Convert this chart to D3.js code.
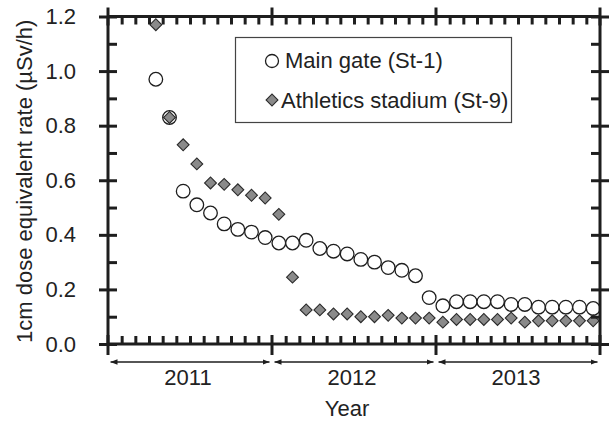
<!DOCTYPE html>
<html>
<head>
<meta charset="utf-8">
<script src="https://cdn.jsdelivr.net/npm/d3@7"></script>
<style>
  body { margin: 0; background: #fff; }
  text { font-family: "Liberation Sans", Arial, Helvetica, sans-serif; fill: #222; }
</style>
</head>
<body>
<svg id="chart" width="611" height="421"></svg>
<script>
// Monthly survey dates
const months = [
  "2011-04", "2011-05", "2011-06", "2011-07", "2011-08", "2011-09", "2011-10", "2011-11", "2011-12",
  "2012-01", "2012-02", "2012-03", "2012-04", "2012-05", "2012-06", "2012-07", "2012-08", "2012-09",
  "2012-10", "2012-11", "2012-12",
  "2013-01", "2013-02", "2013-03", "2013-04", "2013-05", "2013-06", "2013-07", "2013-08", "2013-09",
  "2013-10", "2013-11", "2013-12"
];

// 1cm dose equivalent rate (µSv/h)
const mainGate = [
  0.97, 0.83, 0.56, 0.51, 0.48, 0.44, 0.42, 0.41, 0.39,
  0.37, 0.37, 0.38, 0.35, 0.34, 0.33, 0.31, 0.30, 0.28,
  0.27, 0.25, 0.17,
  0.14, 0.155, 0.155, 0.155, 0.155, 0.145, 0.145, 0.135, 0.135,
  0.135, 0.135, 0.13
];
const athletics = [
  1.17, 0.83, 0.73, 0.66, 0.59, 0.585, 0.565, 0.545, 0.535,
  0.475, 0.245, 0.125, 0.125, 0.11, 0.11, 0.10, 0.10, 0.105,
  0.095, 0.095, 0.095,
  0.08, 0.09, 0.09, 0.09, 0.09, 0.095, 0.08, 0.085, 0.085,
  0.085, 0.085, 0.085
];

const years = ["2011", "2012", "2013"];
const yTicks = [0, 0.2, 0.4, 0.6, 0.8, 1.0, 1.2];
const yMinorTicks = [0.1, 0.3, 0.5, 0.7, 0.9, 1.1];
const seriesNames = ["Main gate (St-1)", "Athletics stadium (St-9)"];
const yTitle = "1cm dose equivalent rate (\u00B5Sv/h)";
const xTitle = "Year";

const plot = { left: 108, right: 600, top: 16.5, bottom: 344 };
const ink = "#1e1e1e";
const axisWidth = 3;
const fontSize = 22;

const svg = d3.select("#chart");
const firstYear = +years[0];
const monthPos = s => {
  const [yy, mm] = s.split("-").map(Number);
  return (yy - firstYear) * 12 + (mm - 1) + 0.5;
};

const x = d3.scaleLinear().domain([0, years.length * 12]).range([plot.left, plot.right]);
const y = d3.scaleLinear().domain([0, 1.2]).range([plot.bottom, plot.top]);

// ---- data marks ----
const gMarks = svg.append("g");
gMarks.selectAll("circle.gate")
  .data(months.map((m, i) => ({ m, v: mainGate[i] })))
  .join("circle")
  .attr("class", "gate")
  .attr("cx", d => x(monthPos(d.m)))
  .attr("cy", d => y(d.v))
  .attr("r", 6.8)
  .attr("fill", "#fff")
  .attr("stroke", ink)
  .attr("stroke-width", 1.3);

const diamond = d3.symbol().type(d3.symbolSquare).size(70);
gMarks.selectAll("path.stadium")
  .data(months.map((m, i) => ({ m, v: athletics[i] })))
  .join("path")
  .attr("class", "stadium")
  .attr("d", diamond)
  .attr("transform", d => `translate(${x(monthPos(d.m))},${y(d.v)}) rotate(45)`)
  .attr("fill", "#8a8a8a")
  .attr("stroke", "#2a2a2a")
  .attr("stroke-width", 1.1);

// ---- axes ----
const monthTicks = d3.range(1, years.length * 12).filter(t => t % 12 !== 0);
const yearBounds = d3.range(0, years.length + 1).map(i => i * 12);

function styleTicks(g) {
  g.select(".domain").remove();
  g.selectAll(".tick line").attr("stroke", ink).attr("stroke-width", axisWidth);
}

// month ticks, pointing into the plot
svg.append("g")
  .attr("transform", `translate(0,${plot.bottom})`)
  .call(d3.axisBottom(x).tickValues(monthTicks).tickSize(-8).tickFormat(""))
  .call(styleTicks);
svg.append("g")
  .attr("transform", `translate(0,${plot.top})`)
  .call(d3.axisTop(x).tickValues(monthTicks).tickSize(-8).tickFormat(""))
  .call(styleTicks);

// minor value ticks, pointing inward
svg.append("g")
  .attr("transform", `translate(${plot.left},0)`)
  .call(d3.axisLeft(y).tickValues(yMinorTicks).tickSize(-9).tickFormat(""))
  .call(styleTicks);
svg.append("g")
  .attr("transform", `translate(${plot.right},0)`)
  .call(d3.axisRight(y).tickValues(yMinorTicks).tickSize(-9).tickFormat(""))
  .call(styleTicks);

// major value ticks cross the axis on both sides
[[plot.left, d3.axisLeft], [plot.right, d3.axisRight]].forEach(([px, ax]) => {
  svg.append("g")
    .attr("transform", `translate(${px},0)`)
    .call(ax(y).tickValues(yTicks).tickSize(9).tickFormat(""))
    .call(styleTicks);
  svg.append("g")
    .attr("transform", `translate(${px},0)`)
    .call(ax(y).tickValues(yTicks).tickSize(-9).tickFormat(""))
    .call(styleTicks);
});

// value labels
const yLab = svg.append("g")
  .attr("transform", `translate(${plot.left},0)`)
  .call(d3.axisLeft(y).tickValues(yTicks).tickSize(0).tickPadding(32).tickFormat(d3.format(".1f")));
yLab.select(".domain").remove();
yLab.selectAll("text").attr("font-size", fontSize).attr("fill", "#222")
  .attr("font-family", "Liberation Sans, Arial, sans-serif");

// frame
const frame = svg.append("g").attr("stroke", ink).attr("stroke-width", axisWidth);
frame.append("line").attr("x1", plot.left).attr("x2", plot.right).attr("y1", plot.top).attr("y2", plot.top);
frame.append("line").attr("x1", plot.left).attr("x2", plot.right).attr("y1", plot.bottom).attr("y2", plot.bottom);

// year boundaries cross both horizontal axes
frame.selectAll("line.yb-bottom").data(yearBounds).join("line")
  .attr("class", "yb-bottom")
  .attr("x1", d => x(d)).attr("x2", d => x(d))
  .attr("y1", plot.bottom - 9).attr("y2", plot.bottom + 11);
frame.selectAll("line.yb-top").data(yearBounds).join("line")
  .attr("class", "yb-top")
  .attr("x1", d => x(d)).attr("x2", d => x(d))
  .attr("y1", plot.top - 9).attr("y2", plot.top + 9);
frame.append("line").attr("x1", x(0)).attr("x2", x(0)).attr("y1", plot.top).attr("y2", plot.bottom);
frame.append("line").attr("x1", x(years.length * 12)).attr("x2", x(years.length * 12)).attr("y1", plot.top).attr("y2", plot.bottom);

// year spans: double-headed arrows with the year below
const defs = svg.append("defs");
defs.append("marker")
  .attr("id", "head")
  .attr("viewBox", "0 0 10 10")
  .attr("refX", 10).attr("refY", 5)
  .attr("markerWidth", 7).attr("markerHeight", 7)
  .attr("markerUnits", "userSpaceOnUse")
  .attr("orient", "auto-start-reverse")
  .append("path").attr("d", "M0,1 L10,5 L0,9 Z").attr("fill", ink);

const arrowY = 362;
const spans = svg.append("g");
spans.selectAll("line").data(years).join("line")
  .attr("x1", (d, i) => x(i * 12) + 2.5)
  .attr("x2", (d, i) => x((i + 1) * 12) - 2.5)
  .attr("y1", arrowY).attr("y2", arrowY)
  .attr("stroke", ink).attr("stroke-width", 1.4)
  .attr("marker-start", "url(#head)")
  .attr("marker-end", "url(#head)");
spans.selectAll("text").data(years).join("text")
  .attr("x", (d, i) => x(i * 12 + 6) - 2)
  .attr("y", 385)
  .attr("text-anchor", "middle")
  .attr("font-size", fontSize)
  .text(d => d);

// axis titles
svg.append("text")
  .attr("x", (plot.left + plot.right) / 2 - 7)
  .attr("y", 416)
  .attr("text-anchor", "middle")
  .attr("font-size", fontSize)
  .text(xTitle);
svg.append("text")
  .attr("transform", `translate(32,${(plot.top + plot.bottom) / 2 + 1}) rotate(-90)`)
  .attr("text-anchor", "middle")
  .attr("font-size", fontSize)
  .text(yTitle);

// legend
const lg = svg.append("g");
lg.append("rect")
  .attr("x", 235.5).attr("y", 37.5).attr("width", 276).attr("height", 85)
  .attr("fill", "#fff").attr("stroke", "#444").attr("stroke-width", 1.2);
lg.append("circle").attr("cx", 272).attr("cy", 61).attr("r", 6.5)
  .attr("fill", "#fff").attr("stroke", ink).attr("stroke-width", 1.3);
lg.append("path").attr("d", diamond)
  .attr("transform", "translate(272,100) rotate(45)")
  .attr("fill", "#8a8a8a").attr("stroke", "#2a2a2a").attr("stroke-width", 1.1);
lg.selectAll("text").data(seriesNames).join("text")
  .attr("x", (d, i) => i === 0 ? 285 : 281)
  .attr("y", (d, i) => i === 0 ? 68 : 107.5)
  .attr("font-size", fontSize)
  .text(d => d);
</script>
</body>
</html>
